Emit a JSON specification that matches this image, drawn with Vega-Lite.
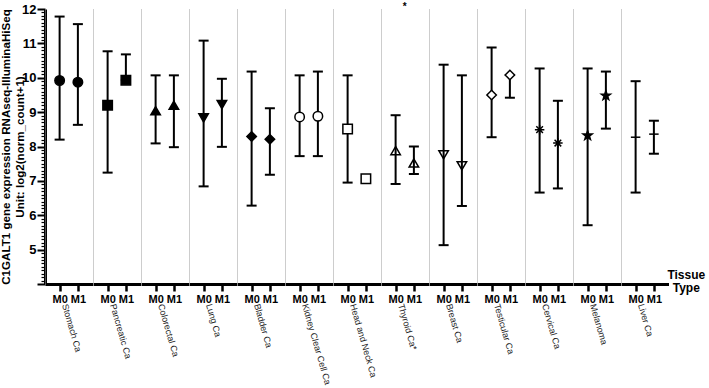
{
  "$schema": "https://vega.github.io/schema/vega-lite/v6.json",
  "padding": {"left": 0, "top": 2, "right": 0, "bottom": 0},
  "background": "white",
  "bounds": "flush",
  "spacing": 0,
  "config": {
    "font": "Liberation Sans",
    "view": {"stroke": null}
  },
  "title": {
    "text": ["Tissue", "Type"],
    "orient": "right",
    "angle": 0,
    "anchor": "start",
    "align": "center",
    "baseline": "top",
    "fontSize": 12,
    "fontWeight": "bold",
    "lineHeight": 13,
    "color": "black",
    "offset": 6,
    "dx": -26,
    "dy": 268
  },
  "data": {
    "values": [
      {"tissue": "Stomach Ca", "met": "M0", "mean": 9.92, "low": 8.20, "high": 11.78},
      {"tissue": "Stomach Ca", "met": "M1", "mean": 9.87, "low": 8.63, "high": 11.56},
      {"tissue": "Pancreatic Ca", "met": "M0", "mean": 9.20, "low": 7.24, "high": 10.77},
      {"tissue": "Pancreatic Ca", "met": "M1", "mean": 9.93, "low": 9.93, "high": 10.68},
      {"tissue": "Colorectal Ca", "met": "M0", "mean": 9.04, "low": 8.09, "high": 10.07},
      {"tissue": "Colorectal Ca", "met": "M1", "mean": 9.20, "low": 7.98, "high": 10.07},
      {"tissue": "Lung Ca", "met": "M0", "mean": 8.83, "low": 6.84, "high": 11.08},
      {"tissue": "Lung Ca", "met": "M1", "mean": 9.22, "low": 7.99, "high": 9.97},
      {"tissue": "Bladder Ca", "met": "M0", "mean": 8.29, "low": 6.28, "high": 10.18},
      {"tissue": "Bladder Ca", "met": "M1", "mean": 8.21, "low": 7.18, "high": 9.11},
      {"tissue": "Kidney Clear Cell Ca", "met": "M0", "mean": 8.86, "low": 7.72, "high": 10.07},
      {"tissue": "Kidney Clear Cell Ca", "met": "M1", "mean": 8.88, "low": 7.72, "high": 10.18},
      {"tissue": "Head and Neck Ca", "met": "M0", "mean": 8.51, "low": 6.95, "high": 10.07},
      {"tissue": "Head and Neck Ca", "met": "M1", "mean": 7.06, "low": null, "high": null},
      {"tissue": "Thyroid Ca*", "met": "M0", "mean": 7.88, "low": 6.91, "high": 8.91, "sig": "*"},
      {"tissue": "Thyroid Ca*", "met": "M1", "mean": 7.52, "low": 7.20, "high": 8.00},
      {"tissue": "Breast Ca", "met": "M0", "mean": 7.76, "low": 5.13, "high": 10.38},
      {"tissue": "Breast Ca", "met": "M1", "mean": 7.44, "low": 6.27, "high": 10.07},
      {"tissue": "Testicular Ca", "met": "M0", "mean": 9.50, "low": 8.27, "high": 10.88},
      {"tissue": "Testicular Ca", "met": "M1", "mean": 10.08, "low": 9.42, "high": 10.08},
      {"tissue": "Cervical Ca", "met": "M0", "mean": 8.49, "low": 6.66, "high": 10.27},
      {"tissue": "Cervical Ca", "met": "M1", "mean": 8.10, "low": 6.78, "high": 9.33},
      {"tissue": "Melanoma", "met": "M0", "mean": 8.32, "low": 5.71, "high": 10.27},
      {"tissue": "Melanoma", "met": "M1", "mean": 9.48, "low": 8.52, "high": 10.18},
      {"tissue": "Liver Ca", "met": "M0", "mean": 8.27, "low": 6.66, "high": 9.90},
      {"tissue": "Liver Ca", "met": "M1", "mean": 8.36, "low": 7.79, "high": 8.75}
    ]
  },
  "facet": {
    "column": {
      "field": "tissue",
      "type": "nominal",
      "title": null,
      "sort": ["Stomach Ca", "Pancreatic Ca", "Colorectal Ca", "Lung Ca", "Bladder Ca", "Kidney Clear Cell Ca", "Head and Neck Ca", "Thyroid Ca*", "Breast Ca", "Testicular Ca", "Cervical Ca", "Melanoma", "Liver Ca"],
      "header": {
        "labelOrient": "bottom",
        "labelAngle": 74,
        "labelAlign": "left",
        "labelBaseline": "top",
        "labelAnchor": "middle",
        "labelFontSize": 9,
        "labelColor": "#222222",
        "labelPadding": -1,
        "labelLimit": 0
      }
    }
  },
  "spec": {
    "width": 47.5,
    "height": 275,
    "resolve": {"axis": {"x": "independent", "y": "independent"}},
    "layer": [
      {
        "mark": {"type": "rule", "strokeWidth": 2, "color": "black"},
        "encoding": {
          "x": {
            "field": "met", "type": "nominal",
            "scale": {"type": "point", "padding": 0.8, "domain": ["M0", "M1"]},
            "axis": {
              "orient": "bottom", "title": null, "labelAngle": 0,
              "labelFontSize": 11, "labelFontWeight": "bold", "labelColor": "black",
              "labelPadding": 2, "tickSize": 7, "tickWidth": 2.5, "tickColor": "black",
              "domainColor": "black", "domainWidth": 3, "grid": false
            }
          },
          "y": {
            "field": "low", "type": "quantitative",
            "scale": {"domain": [4, 12], "nice": false, "zero": false},
            "axis": {
              "orient": "left",
              "values": [4, 5, 6, 7, 8, 9, 10, 11, 12],
              "labelExpr": "datum.value >= 5 ? datum.label : ''",
              "labelFontSize": 13, "labelFontWeight": "bold", "labelColor": "black",
              "labelPadding": 1, "labelOverlap": false, "labelFlush": false,
              "tickSize": 8, "tickWidth": 2, "tickColor": "black",
              "domainColor": "black", "domainWidth": 3, "grid": false,
              "title": ["C1GALT1 gene expression RNAseq-IlluminaHiSeq", "Unit: log2(norm_count+1)"],
              "titleFontSize": 11.6, "titleFontWeight": "bold", "titleColor": "black",
              "titlePadding": -4, "titleLineHeight": 14
            }
          },
          "y2": {"field": "high"}
        }
      },
      {
        "mark": {"type": "tick", "thickness": 2, "size": 10, "color": "black", "opacity": 1},
        "encoding": {
          "x": {
            "field": "met", "type": "nominal",
            "scale": {"type": "point", "padding": 0.8, "domain": ["M0", "M1"]},
            "axis": {
              "orient": "top", "title": null, "values": ["M0"],
              "labels": false, "ticks": false, "domain": false,
              "grid": true, "tickOffset": -14.6,
              "gridColor": "#9a9a9a", "gridDash": [1, 1], "gridWidth": 1
            }
          },
          "y": {
            "field": "high", "type": "quantitative",
            "axis": {
              "orient": "left", "title": null,
              "values": [4.1, 4.2, 4.3, 4.4, 4.5, 4.6, 4.7, 4.8, 4.9, 5.1, 5.2, 5.3, 5.4, 5.5, 5.6, 5.7, 5.8, 5.9, 6.1, 6.2, 6.3, 6.4, 6.5, 6.6, 6.7, 6.8, 6.9, 7.1, 7.2, 7.3, 7.4, 7.5, 7.6, 7.7, 7.8, 7.9, 8.1, 8.2, 8.3, 8.4, 8.5, 8.6, 8.7, 8.8, 8.9, 9.1, 9.2, 9.3, 9.4, 9.5, 9.6, 9.7, 9.8, 9.9, 10.1, 10.2, 10.3, 10.4, 10.5, 10.6, 10.7, 10.8, 10.9, 11.1, 11.2, 11.3, 11.4, 11.5, 11.6, 11.7, 11.8, 11.9],
              "labels": false, "domain": false, "grid": false,
              "tickSize": 4, "tickWidth": 1.2, "tickColor": "black"
            }
          }
        }
      },
      {
        "mark": {"type": "tick", "thickness": 2, "size": 10, "color": "black", "opacity": 1},
        "encoding": {
          "x": {"field": "met", "type": "nominal", "scale": {"type": "point", "padding": 0.8, "domain": ["M0", "M1"]}, "axis": null},
          "y": {"field": "low", "type": "quantitative", "axis": null}
        }
      },
      {
        "mark": {"type": "point", "filled": true, "stroke": "black", "strokeWidth": 1.5, "size": 90, "opacity": 1},
        "encoding": {
          "x": {"field": "met", "type": "nominal", "scale": {"type": "point", "padding": 0.8, "domain": ["M0", "M1"]}, "axis": null},
          "y": {"field": "mean", "type": "quantitative", "axis": null},
          "shape": {
            "field": "tissue", "type": "nominal", "legend": null,
            "scale": {
              "domain": ["Stomach Ca", "Pancreatic Ca", "Colorectal Ca", "Lung Ca", "Bladder Ca", "Kidney Clear Cell Ca", "Head and Neck Ca", "Thyroid Ca*", "Breast Ca", "Testicular Ca", "Cervical Ca", "Melanoma", "Liver Ca"],
              "range": ["circle", "square", "triangle-up", "triangle-down", "diamond", "circle", "square", "triangle-up", "triangle-down", "diamond",
                "M-1,0L1,0M0,-1L0,1M-0.7,-0.7L0.7,0.7M-0.7,0.7L0.7,-0.7",
                "M0,-1L0.235,-0.324L0.951,-0.309L0.38,0.124L0.588,0.809L0,0.4L-0.588,0.809L-0.38,0.124L-0.951,-0.309L-0.235,-0.324Z",
                "stroke"]
            }
          },
          "fill": {
            "field": "tissue", "type": "nominal", "legend": null,
            "scale": {
              "domain": ["Stomach Ca", "Pancreatic Ca", "Colorectal Ca", "Lung Ca", "Bladder Ca", "Kidney Clear Cell Ca", "Head and Neck Ca", "Thyroid Ca*", "Breast Ca", "Testicular Ca", "Cervical Ca", "Melanoma", "Liver Ca"],
              "range": ["black", "black", "black", "black", "black", "white", "white", "transparent", "transparent", "white", "transparent", "black", "transparent"]
            }
          }
        }
      },
      {
        "transform": [{"filter": "datum.sig"}],
        "mark": {"type": "text", "fontSize": 10, "fontWeight": "bold", "color": "black", "baseline": "middle", "dy": -2},
        "encoding": {
          "y": {"datum": 12, "type": "quantitative", "axis": null},
          "text": {"field": "sig"}
        }
      }
    ]
  }
}
